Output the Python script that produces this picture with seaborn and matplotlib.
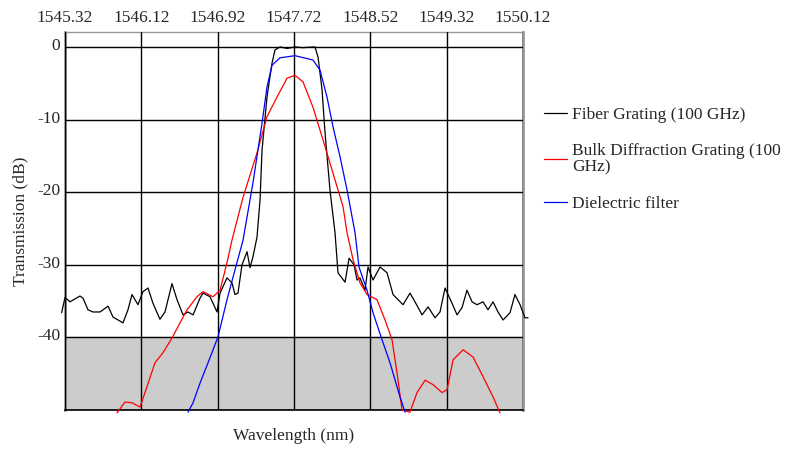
import numpy as np
import pandas as pd
import matplotlib
matplotlib.use('Agg')
import matplotlib.pyplot as plt
import matplotlib.transforms as mtransforms
import seaborn as sns

# Spectra (wavelength in nm, transmission in dB)
fiber_wl = [1545.285, 1545.320, 1545.372, 1545.477, 1545.509, 1545.561, 1545.613, 1545.687,
            1545.771, 1545.823, 1545.928, 1545.980, 1546.022, 1546.085, 1546.137, 1546.190,
            1546.242, 1546.315, 1546.368, 1546.441, 1546.494, 1546.557, 1546.609, 1546.662,
            1546.735, 1546.766, 1546.840, 1546.913, 1546.945, 1547.018, 1547.070, 1547.102,
            1547.133, 1547.175, 1547.228, 1547.259, 1547.290, 1547.332, 1547.364, 1547.385,
            1547.437, 1547.490, 1547.521, 1547.573, 1547.650, 1547.730, 1547.810, 1547.940,
            1547.972, 1548.014, 1548.045, 1548.097, 1548.150, 1548.181, 1548.255, 1548.297,
            1548.349, 1548.381, 1548.412, 1548.464, 1548.496, 1548.548, 1548.622, 1548.695,
            1548.758, 1548.810, 1548.863, 1548.936, 1548.988, 1549.062, 1549.125, 1549.198,
            1549.250, 1549.303, 1549.376, 1549.429, 1549.481, 1549.533, 1549.586, 1549.638,
            1549.701, 1549.753, 1549.806, 1549.858, 1549.911, 1549.984, 1550.036, 1550.089,
            1550.141, 1550.173]
fiber_db = [-36.6, -34.5, -35.1, -34.3, -34.6, -36.2, -36.5, -36.5,
            -35.7, -37.2, -38.0, -36.2, -34.1, -35.5, -33.7, -33.2,
            -35.3, -37.5, -36.5, -32.6, -34.8, -36.9, -36.5, -36.9,
            -34.6, -33.9, -34.4, -36.5, -33.9, -31.8, -32.5, -34.1,
            -33.9, -30.0, -28.2, -30.4, -28.9, -26.2, -21.1, -14.2,
            -6.9, -2.2, -0.4, 0.0, -0.2, 0.0, -0.1, 0.0,
            -1.4, -5.9, -11.8, -19.7, -25.6, -31.1, -32.4, -29.1,
            -30.0, -32.1, -31.8, -33.5, -30.3, -32.1, -30.3, -31.1,
            -34.1, -34.8, -35.5, -33.9, -35.1, -36.9, -35.8, -37.3,
            -36.5, -33.2, -35.3, -36.9, -35.9, -33.5, -35.1, -35.5,
            -35.1, -36.2, -35.1, -36.5, -37.6, -36.6, -34.1, -35.5,
            -37.3, -37.3]

bulk_wl = [1545.865, 1545.949, 1546.022, 1546.106, 1546.179, 1546.263, 1546.347, 1546.441,
           1546.525, 1546.599, 1546.703, 1546.766, 1546.871, 1546.945, 1547.018, 1547.070,
           1547.186, 1547.332, 1547.437, 1547.542, 1547.647, 1547.730, 1547.814, 1547.919,
           1548.024, 1548.129, 1548.234, 1548.276, 1548.339, 1548.412, 1548.485, 1548.590,
           1548.674, 1548.747, 1548.800, 1548.852, 1548.936, 1549.009, 1549.093, 1549.177,
           1549.271, 1549.324, 1549.387, 1549.492, 1549.596, 1549.701, 1549.806, 1549.879]
bulk_db = [-50.4, -48.9, -49.0, -49.6, -46.8, -43.5, -42.1, -40.1,
           -38.0, -36.2, -34.4, -33.7, -34.4, -33.5, -29.7, -26.6,
           -20.7, -14.6, -9.6, -6.9, -4.3, -3.9, -4.8, -8.3,
           -12.8, -17.4, -22.0, -25.6, -29.3, -32.5, -34.1, -34.8,
           -37.6, -40.3, -44.9, -50.0, -50.3, -47.6, -45.9, -46.5,
           -47.6, -47.2, -43.1, -41.7, -42.7, -45.4, -48.2, -50.4]

diel_wl = [1546.609, 1546.662, 1546.735, 1546.819, 1546.924, 1547.018, 1547.081, 1547.186,
           1547.290, 1547.385, 1547.437, 1547.490, 1547.573, 1547.730, 1547.919, 1547.993,
           1548.066, 1548.129, 1548.202, 1548.276, 1548.360, 1548.401, 1548.485, 1548.548,
           1548.642, 1548.726, 1548.800, 1548.831, 1548.884]
diel_db = [-50.3, -49.0, -46.3, -43.5, -39.9, -34.8, -31.7, -26.6,
           -18.7, -10.5, -5.5, -2.5, -1.5, -1.2, -1.8, -3.2,
           -6.9, -11.0, -15.1, -19.7, -25.6, -30.3, -33.5, -36.6,
           -40.3, -43.5, -46.8, -48.2, -50.3]

names = ['Fiber Grating (100 GHz)', 'Bulk Diffraction Grating (100\nGHz)', 'Dielectric filter']
colors = ['black', 'red', 'blue']
x_ticks = [1545.32, 1546.12, 1546.92, 1547.72, 1548.52, 1549.32, 1550.12]
y_ticks = [-50, -40, -30, -20, -10, 0]

df = pd.concat([
    pd.DataFrame({'wl': fiber_wl, 'db': fiber_db, 'filter': names[0]}),
    pd.DataFrame({'wl': bulk_wl, 'db': bulk_db, 'filter': names[1]}),
    pd.DataFrame({'wl': diel_wl, 'db': diel_db, 'filter': names[2]}),
])

sns.set_style('white')
plt.rcParams['font.family'] = ['Liberation Serif', 'DejaVu Serif']
plt.rcParams['axes.unicode_minus'] = False

fig = plt.figure(figsize=(7.9, 4.49), dpi=100)
ax = fig.add_axes([65 / 790, 1 - 410 / 449, (523 - 65) / 790, (410 - 32) / 449])

ax.axhspan(-50, -40, color='#cccccc', zorder=0)

sns.lineplot(data=df, x='wl', y='db', hue='filter', palette=dict(zip(names, colors)),
             estimator=None, sort=False, linewidth=0.9, ax=ax, zorder=3)
for line in ax.get_lines():
    line.set_clip_on(False)

ax.set_xlim(1545.32, 1550.12)
ax.set_ylim(-50, 2.06)

ax.xaxis.tick_top()
ax.set_xticks(x_ticks)
ax.set_xticklabels([f'{t:.2f}' for t in x_ticks], fontsize=12.5)
ax.tick_params(axis='x', length=0, pad=4)
ax.set_yticks(y_ticks)
ax.set_yticklabels(['' if t == -50 else str(t) for t in y_ticks], fontsize=12.5)
ax.tick_params(axis='y', length=5, width=1, direction='inout', color='black', pad=1)
shift = mtransforms.ScaledTranslation(0, 3 / 100, fig.dpi_scale_trans)
for lab in ax.get_yticklabels():
    lab.set_transform(lab.get_transform() + shift)

ax.grid(True, color='black', linewidth=1)
ax.set_axisbelow(False)
for line in ax.get_xgridlines() + ax.get_ygridlines():
    line.set_zorder(1)

ax.spines['top'].set_color('#999999')
ax.spines['top'].set_linewidth(1)
ax.spines['left'].set_color('#999999')
ax.spines['left'].set_linewidth(2)
ax.spines['right'].set_color('#999999')
ax.spines['right'].set_linewidth(2)
ax.spines['bottom'].set_color('black')
ax.spines['bottom'].set_linewidth(1.2)

ax.set_xlabel('Wavelength (nm)', fontsize=12.5, labelpad=13)
ax.set_ylabel('Transmission (dB)', fontsize=12.5, labelpad=6)

ax.legend(loc='upper left', bbox_to_anchor=(544 / 790, 1 - 107 / 449),
          bbox_transform=fig.transFigure, frameon=False, fontsize=12.5,
          handlelength=1.3, handletextpad=0.3, labelspacing=1.15, borderpad=0,
          borderaxespad=0)
for txt in ax.get_legend().get_texts():
    txt.set_linespacing(1.05)

fig.savefig('out.png', dpi=100)
